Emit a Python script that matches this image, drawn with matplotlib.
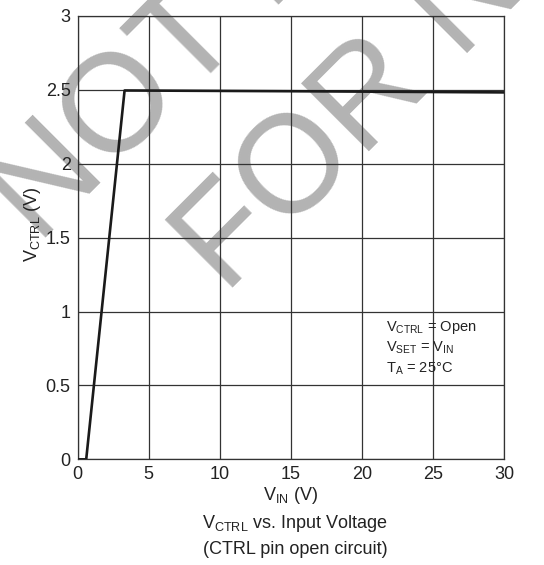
import matplotlib.pyplot as plt

plt.rcParams['font.family'] = ['Liberation Sans', 'DejaVu Sans']
plt.rcParams['mathtext.default'] = 'regular'

# data
vin = [0, 0.6, 3.3, 15, 30]
vctrl = [0, 0, 2.495, 2.49, 2.482]

xticks = [0, 5, 10, 15, 20, 25, 30]
yticks = [0, 0.5, 1, 1.5, 2, 2.5, 3]
ytick_labels = ['0', '0.5', '1', '1.5', '2', '2.5', '3']

fig = plt.figure(figsize=(5.44, 5.65), dpi=100)
ax = fig.add_axes([0.1428, 0.187, 0.7837, 0.785])
ax.set_facecolor('none')

# watermark behind everything
wm = dict(color='#b3b3b3', fontsize=100, rotation=45, rotation_mode='anchor',
          ha='left', va='baseline', zorder=-10)
fig.text(38 / 544, 1 - 245 / 565, 'NOT RECOMMENDED', **wm)
fig.text(225 / 544, 1 - 295 / 565, 'FOR NEW DESIGNS', **wm)

ax.plot(vin, vctrl, color='#1a1a1a', lw=1.9, zorder=3)

ax.set_xlim(0, 30)
ax.set_ylim(0, 3)
ax.set_xticks(xticks)
ax.set_yticks(yticks)
ax.set_yticklabels(ytick_labels)
ax.tick_params(length=0, labelsize=13, colors='#222222', pad=5)
ax.grid(True, color='#333333', lw=0.9)
for s in ax.spines.values():
    s.set_color('#333333')
    s.set_linewidth(0.9)

ax.set_ylabel('$V_{CTRL}$ (V)', fontsize=13, color='#222222')
ax.yaxis.set_label_coords(-0.082, 0.53)
ax.set_xlabel('$V_{IN}$ (V)', fontsize=13, color='#222222', labelpad=1)

ax.text(21.7, 0.95, '$V_{CTRL}$ = Open\n$V_{SET}$ = $V_{IN}$\n$T_A$ = 25°C',
        fontsize=10.5, color='#222222', va='top', ha='left', linespacing=1.35)

fig.text(295 / 544, 1 - 523 / 565, '$V_{CTRL}$ vs. Input Voltage',
         fontsize=13, color='#222222', ha='center', va='center')
fig.text(295 / 544, 1 - 550 / 565, '(CTRL pin open circuit)',
         fontsize=13, color='#222222', ha='center', va='center')

fig.savefig('out.png', dpi=100)
